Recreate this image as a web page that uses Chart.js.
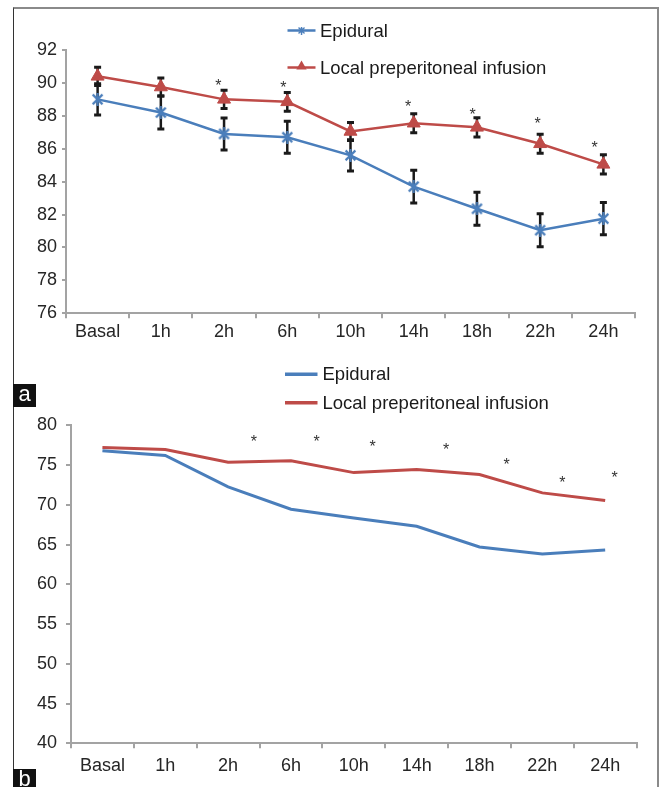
<!DOCTYPE html>
<html>
<head>
<meta charset="utf-8">
<script src="https://cdn.jsdelivr.net/npm/chart.js@4/dist/chart.umd.min.js"></script>
<style>
  html, body { margin: 0; padding: 0; background: #fff; }
  body { width: 661px; height: 787px; position: relative; overflow: hidden; font-family: "Liberation Sans", Arial, sans-serif; }
  #frame { position: absolute; left: 12.5px; top: 7px; width: 643px; height: 820px;
           border-top: 2px solid #8a8a8a; border-right: 2px solid #8a8a8a; border-left: 1.5px solid #333; }
  canvas { position: absolute; left: 0; }
  #chartA { top: 0; }
  #chartB { top: 350px; }
  .tag { position: absolute; left: 13px; width: 23px; height: 23px; background: #111; color: #fff;
         font-size: 22px; line-height: 20px; text-align: center; }
</style>
</head>
<body>
<div id="frame"></div>
<canvas id="chartA" width="661" height="350"></canvas>
<canvas id="chartB" width="661" height="437"></canvas>
<div class="tag" style="top:384px">a</div>
<div class="tag" style="top:769px">b</div>
<script>
const categories = ['Basal', '1h', '2h', '6h', '10h', '14h', '18h', '22h', '24h']
const seriesNames = ['Epidural', 'Local preperitoneal infusion']

// panel a: mean values with error bars
const epiduralA = [89.0, 88.2, 86.9, 86.7, 85.6, 83.7, 82.35, 81.05, 81.75]
const epiduralErrA = [0.95, 1.0, 0.97, 0.97, 0.95, 1.0, 1.0, 1.0, 0.98]
const infusionA = [90.4, 89.75, 89.0, 88.85, 87.05, 87.55, 87.3, 86.3, 85.05]
const infusionErrA = [0.55, 0.55, 0.55, 0.57, 0.55, 0.58, 0.58, 0.58, 0.58]
const starAtA = [1.91, 2.94, 4.91, 5.93, 6.96, 7.86]
const starValA = [90.05, 89.95, 88.8, 88.32, 87.75, 86.27]

// panel b
const epiduralB = [76.8, 76.2, 72.25, 69.45, 68.35, 67.3, 64.7, 63.8, 64.3]
const infusionB = [77.2, 76.95, 75.35, 75.55, 74.05, 74.45, 73.8, 71.5, 70.55]
const starAtB = [2.41, 3.41, 4.30, 5.47, 6.43, 7.32, 8.15]
const starValB = [78.36, 78.36, 77.74, 77.4, 75.55, 73.2, 73.84]

const blue = '#4A7EBB'
const red = '#BE4B48'
const axisGray = '#a3a3a3'
const textColor = '#262626'
const family = "'Liberation Sans', Arial, sans-serif"

function starMarker (size, color, lw) {
  const c = document.createElement('canvas')
  c.width = size
  c.height = size
  const g = c.getContext('2d')
  g.strokeStyle = color
  g.lineWidth = lw
  const a = lw / 2 + 0.5
  const b = size - lw / 2 - 0.5
  g.beginPath()
  g.moveTo(a, a); g.lineTo(b, b)
  g.moveTo(b, a); g.lineTo(a, b)
  g.moveTo(size / 2, 0); g.lineTo(size / 2, size)
  g.stroke()
  return c
}

const starImg = starMarker(13, blue, 2.2)

function triangle (ctx, x, y, r, color) {
  ctx.fillStyle = color
  ctx.beginPath()
  ctx.moveTo(x, y - r)
  ctx.lineTo(x + r * 0.866, y + r / 2)
  ctx.lineTo(x - r * 0.866, y + r / 2)
  ctx.closePath()
  ctx.fill()
}

function errorBars () {
  return {
    id: 'errorBars',
    beforeDatasetsDraw (chart) {
      const ctx = chart.ctx
      const ys = chart.scales.y
      ctx.save()
      ctx.strokeStyle = '#1a1a1a'
      chart.data.datasets.forEach((ds, di) => {
        if (!ds.errors) return
        chart.getDatasetMeta(di).data.forEach((pt, i) => {
          const top = ys.getPixelForValue(ds.data[i] + ds.errors[i])
          const bot = ys.getPixelForValue(ds.data[i] - ds.errors[i])
          ctx.lineWidth = 2.5
          ctx.beginPath()
          ctx.moveTo(pt.x, top); ctx.lineTo(pt.x, bot)
          ctx.stroke()
          ctx.lineWidth = 3
          ctx.beginPath()
          ctx.moveTo(pt.x - 3.5, top); ctx.lineTo(pt.x + 3.5, top)
          ctx.moveTo(pt.x - 3.5, bot); ctx.lineTo(pt.x + 3.5, bot)
          ctx.stroke()
        })
      })
      ctx.restore()
    }
  }
}

function sigStars (at, vals) {
  return {
    id: 'sigStars',
    afterDatasetsDraw (chart) {
      const ctx = chart.ctx
      ctx.save()
      ctx.fillStyle = '#333'
      ctx.font = '16px ' + family
      ctx.textAlign = 'center'
      ctx.textBaseline = 'alphabetic'
      at.forEach((p, i) => {
        ctx.fillText('*', chart.scales.x.getPixelForValue(p), chart.scales.y.getPixelForValue(vals[i]) + 9)
      })
      ctx.restore()
    }
  }
}

function sideLegend (x0, x1, textX, rows, lineWidth, markers) {
  return {
    id: 'sideLegend',
    afterDraw (chart) {
      const ctx = chart.ctx
      ctx.save()
      ctx.font = '18.5px ' + family
      ctx.textBaseline = 'middle'
      chart.data.datasets.forEach((ds, i) => {
        const y = rows[i]
        ctx.strokeStyle = ds.borderColor
        ctx.lineWidth = lineWidth
        ctx.beginPath()
        ctx.moveTo(x0, y); ctx.lineTo(x1, y)
        ctx.stroke()
        if (markers) {
          const cx = (x0 + x1) / 2
          if (i === 0) ctx.drawImage(starImg, cx - 4, y - 4, 8, 8)
          else triangle(ctx, cx, y - 1, 6, ds.borderColor)
        }
        ctx.fillStyle = '#1a1a1a'
        ctx.fillText(ds.label, textX, y + 1)
      })
      ctx.restore()
    }
  }
}

function axes (min, max, step, yWidth, yPad, yTick, xHeight, xPad) {
  return {
    x: {
      offset: true,
      grid: { offset: true, drawOnChartArea: false, tickLength: 5, color: axisGray, lineWidth: 2 },
      border: { color: axisGray, width: 2 },
      ticks: { color: textColor, font: { family: family, size: 18 }, padding: xPad, maxRotation: 0, autoSkip: false },
      afterFit: (s) => { s.height = xHeight }
    },
    y: {
      min: min,
      max: max,
      grid: { drawOnChartArea: false, tickLength: yTick, color: axisGray, lineWidth: 2 },
      border: { color: axisGray, width: 2 },
      ticks: { stepSize: step, color: textColor, font: { family: family, size: 18 }, padding: yPad },
      afterFit: (s) => { s.width = yWidth }
    }
  }
}

new Chart(document.getElementById('chartA'), {
  type: 'line',
  data: {
    labels: categories,
    datasets: [
      {
        label: seriesNames[0],
        data: epiduralA,
        errors: epiduralErrA,
        borderColor: blue,
        borderWidth: 2.5,
        pointStyle: starImg,
        pointRadius: 6,
        tension: 0
      },
      {
        label: seriesNames[1],
        data: infusionA,
        errors: infusionErrA,
        borderColor: red,
        backgroundColor: red,
        borderWidth: 2.5,
        pointStyle: 'triangle',
        pointRadius: 7.5,
        pointBorderWidth: 1,
        tension: 0
      }
    ]
  },
  options: {
    responsive: false,
    animation: false,
    devicePixelRatio: 1,
    layout: { padding: { top: 50, right: 26, bottom: 6.7, left: 0 } },
    plugins: { legend: { display: false }, tooltip: { enabled: false } },
    scales: axes(76, 92, 2, 66, 5, 4, 30, 3)
  },
  plugins: [errorBars(), sigStars(starAtA, starValA), sideLegend(287.5, 315.5, 320, [30.5, 67.5], 2.5, true)]
})

new Chart(document.getElementById('chartB'), {
  type: 'line',
  data: {
    labels: categories,
    datasets: [
      { label: seriesNames[0], data: epiduralB, borderColor: blue, borderWidth: 3, pointRadius: 0, tension: 0 },
      { label: seriesNames[1], data: infusionB, borderColor: red, borderWidth: 3, pointRadius: 0, tension: 0 }
    ]
  },
  options: {
    responsive: false,
    animation: false,
    devicePixelRatio: 1,
    layout: { padding: { top: 75.3, right: 24.4, bottom: 7.7, left: 0 } },
    plugins: { legend: { display: false }, tooltip: { enabled: false } },
    scales: axes(40, 80, 5, 71, 9, 5, 36, 7)
  },
  plugins: [sigStars(starAtB, starValB), sideLegend(285, 317.5, 322.5, [24.3, 52.7], 3.5, false)]
})
</script>
</body>
</html>
